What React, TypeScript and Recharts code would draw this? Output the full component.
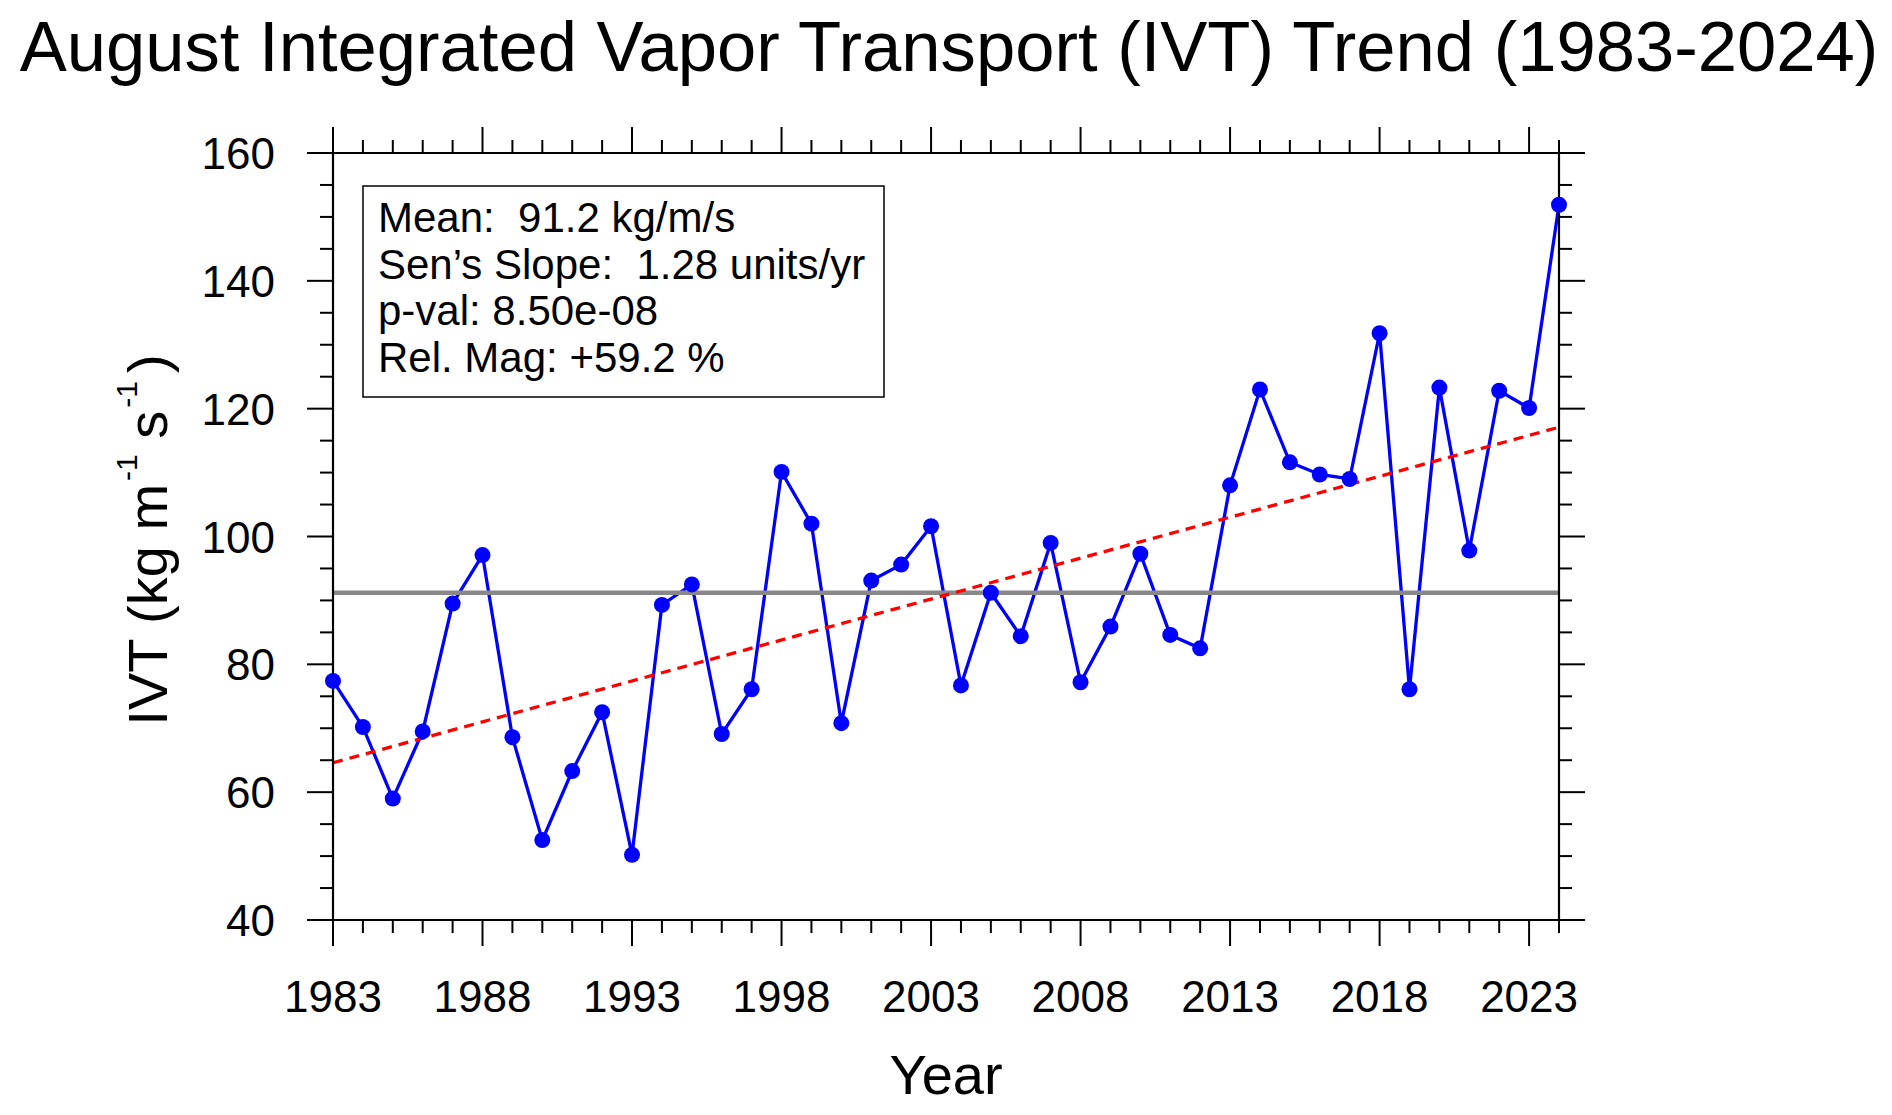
import { Line, LineChart, ReferenceLine, XAxis, YAxis } from 'recharts';

document.body.style.margin = '0';

const FONT = '"Liberation Sans", Arial, Helvetica, sans-serif';

const years = [
  1983, 1984, 1985, 1986, 1987, 1988, 1989, 1990, 1991, 1992, 1993, 1994, 1995, 1996,
  1997, 1998, 1999, 2000, 2001, 2002, 2003, 2004, 2005, 2006, 2007, 2008, 2009, 2010,
  2011, 2012, 2013, 2014, 2015, 2016, 2017, 2018, 2019, 2020, 2021, 2022, 2023, 2024,
];

// August IVT (kg m-1 s-1)
const ivtValues = [
  77.4, 70.2, 59.0, 69.5, 89.5, 97.1, 68.6, 52.5, 63.3, 72.5, 50.2, 89.3, 92.5, 69.1,
  76.1, 110.1, 102.0, 70.8, 93.1, 95.6, 101.6, 76.7, 91.2, 84.4, 99.0, 77.2, 85.9, 97.3,
  84.6, 82.5, 108.0, 123.0, 111.6, 109.7, 109.0, 131.8, 76.1, 123.3, 97.8, 122.8, 120.1, 151.9,
];

// Sen's slope trend line end points
const trendYears = [1983, 2024];
const trendValues = [64.6, 117.1];

const meanIvt = 91.2;

const xMajor = [1983, 1988, 1993, 1998, 2003, 2008, 2013, 2018, 2023];
const yTicks = [
  40, 45, 50, 55, 60, 65, 70, 75, 80, 85, 90, 95, 100, 105, 110, 115, 120, 125, 130, 135,
  140, 145, 150, 155, 160,
];
const yMajor = [40, 60, 80, 100, 120, 140, 160];

const statLines = [
  'Mean:  91.2 kg/m/s',
  'Sen\u2019s Slope:  1.28 units/yr',
  'p-val: 8.50e-08',
  'Rel. Mag: +59.2 %',
];

const chartData = years.map((year, i) => ({ year, ivt: ivtValues[i] }));
const trendData = trendYears.map((year, i) => ({ year, trend: trendValues[i] }));

const MAJOR_LEN = 26;
const MINOR_LEN = 13;
const TICK_W = 2;

function BottomTick({ x, y, payload }: any) {
  const major = xMajor.includes(payload.value);
  return (
    <g>
      <line x1={x} x2={x} y1={y} y2={y + (major ? MAJOR_LEN : MINOR_LEN)} stroke="#000" strokeWidth={TICK_W} />
      {major && (
        <text x={x} y={y + 92} textAnchor="middle" fontSize={44} fontFamily={FONT} fill="#000">
          {payload.value}
        </text>
      )}
    </g>
  );
}

function TopTick({ x, y, payload }: any) {
  const major = xMajor.includes(payload.value);
  return <line x1={x} x2={x} y1={y} y2={y - (major ? MAJOR_LEN : MINOR_LEN)} stroke="#000" strokeWidth={TICK_W} />;
}

function LeftTick({ x, y, payload }: any) {
  const major = yMajor.includes(payload.value);
  return (
    <g>
      <line x1={x} x2={x - (major ? MAJOR_LEN : MINOR_LEN)} y1={y} y2={y} stroke="#000" strokeWidth={TICK_W} />
      {major && (
        <text x={x - 58} y={y + 16} textAnchor="end" fontSize={44} fontFamily={FONT} fill="#000">
          {payload.value}
        </text>
      )}
    </g>
  );
}

function RightTick({ x, y, payload }: any) {
  const major = yMajor.includes(payload.value);
  return <line x1={x} x2={x + (major ? MAJOR_LEN : MINOR_LEN)} y1={y} y2={y} stroke="#000" strokeWidth={TICK_W} />;
}

const axisLine = { stroke: '#000', strokeWidth: 2.2 };

export default function App() {
  return (
    <div style={{ position: 'relative', width: 1892, height: 1115, background: '#fff' }}>
      <LineChart
        width={1892}
        height={1115}
        data={chartData}
        margin={{ top: 133, right: 313, bottom: 0, left: 0 }}
      >
        <XAxis
          dataKey="year"
          type="number"
          domain={[1983, 2024]}
          ticks={years}
          interval={0}
          tickSize={0}
          tickMargin={0}
          tick={BottomTick}
          axisLine={axisLine}
          height={195}
        />
        <XAxis
          xAxisId="top"
          orientation="top"
          dataKey="year"
          type="number"
          domain={[1983, 2024]}
          ticks={years}
          interval={0}
          tickSize={0}
          tickMargin={0}
          tick={TopTick}
          axisLine={axisLine}
          height={20}
        />
        <YAxis
          type="number"
          domain={[40, 160]}
          ticks={yTicks}
          interval={0}
          tickSize={0}
          tickMargin={0}
          tick={LeftTick}
          axisLine={axisLine}
          width={333}
        />
        <YAxis
          yAxisId="right"
          orientation="right"
          type="number"
          domain={[40, 160]}
          ticks={yTicks}
          interval={0}
          tickSize={0}
          tickMargin={0}
          tick={RightTick}
          axisLine={axisLine}
          width={20}
        />
        <Line
          dataKey="ivt"
          stroke="#0000ff"
          strokeWidth={3.3}
          dot={{ r: 8, fill: '#0000ff', stroke: 'none' }}
          isAnimationActive={false}
        />
        <ReferenceLine y={meanIvt} stroke="#888888" strokeWidth={4.5} />
        <Line
          data={trendData}
          dataKey="trend"
          xAxisId="top"
          yAxisId="right"
          stroke="#ff0000"
          strokeWidth={3.3}
          strokeDasharray="10 7"
          dot={false}
          isAnimationActive={false}
        />
      </LineChart>
      <svg
        width={1892}
        height={1115}
        style={{ position: 'absolute', left: 0, top: 0, pointerEvents: 'none' }}
        fontFamily={FONT}
      >
        <text x={949} y={71} textAnchor="middle" fontSize={70.6} fill="#000">
          August Integrated Vapor Transport (IVT) Trend (1983-2024)
        </text>
        <text x={946} y={1094} textAnchor="middle" fontSize={56} fill="#000">
          Year
        </text>
        <text transform="translate(167,540) rotate(-90)" textAnchor="middle" fontSize={56} fill="#000">
          IVT (kg m<tspan fontSize={30} dx={3} dy={-30}>-1</tspan>
          <tspan dx={0} dy={30}>{' s'}</tspan>
          <tspan fontSize={30} dx={3} dy={-30}>-1</tspan>
          <tspan dx={8} dy={30}>)</tspan>
        </text>
        <rect x={363} y={186} width={521} height={211} fill="none" stroke="#000" strokeWidth={1.5} />
        {statLines.map((line, i) => (
          <text key={i} x={378} y={232 + i * 46.7} fontSize={42} fill="#000" style={{ whiteSpace: 'pre' }}>
            {line}
          </text>
        ))}
      </svg>
    </div>
  );
}
